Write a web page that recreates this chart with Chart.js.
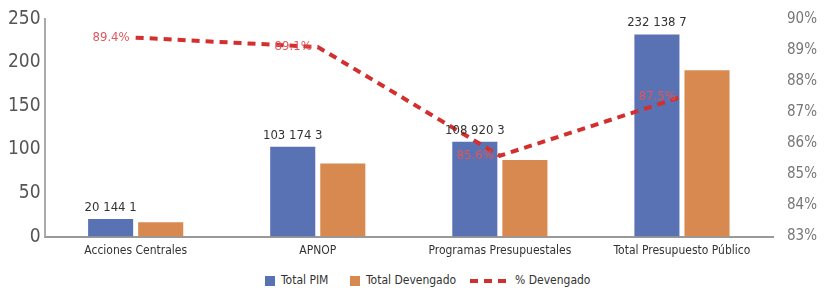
<!DOCTYPE html>
<html>
<head>
<meta charset="utf-8">
<script src="https://cdn.jsdelivr.net/npm/chart.js@4/dist/chart.umd.min.js"></script>
<style>
  html, body { margin: 0; padding: 0; background: #fff; }
  #wrap { width: 825px; height: 288px; position: relative; }
  #wykres { position: absolute; left: 0; top: 0; }
  #legenda {
    position: absolute; left: 0; top: 273px; width: 825px; height: 15px;
    font-family: 'DejaVu Sans', sans-serif; font-stretch: condensed; font-size: 12px; color: #333;
  }
  #legenda span { position: absolute; top: 0; white-space: nowrap; }
  #legenda i { position: absolute; display: block; }
</style>
</head>
<body>
<div id="wrap">
  <canvas id="wykres" width="825" height="265"></canvas>
  <div id="legenda"></div>
</div>
<script>
// dane z wykresu
const kategorie = ['Acciones Centrales', 'APNOP', 'Programas Presupuestales', 'Total Presupuesto Público'];
const totalPim = [20.1441, 103.1743, 108.9203, 232.1387];
const totalDevengado = [16.5, 84, 88, 191];
const pctDevengado = [89.4, 89.1, 85.6, 87.5];
const etykietyPim = ['20 144 1', '103 174 3', '108 920 3', '232 138 7'];
const etykietyPct = ['89.4%', '89.1%', '85.6%', '87.5%'];

const kolorPim = '#5872b4';
const kolorDev = '#d7894f';
const kolorLinia = '#d42f2f';

const czcionka = "'DejaVu Sans', sans-serif";
// 'condensed' trafia do skrotu font jako font-stretch
const waska = (size) => ({ size, family: czcionka, weight: 'condensed' });

// etykiety nad slupkami i przy linii
const etykiety = {
  id: 'etykiety',
  afterDatasetsDraw(chart) {
    const ctx = chart.ctx;
    ctx.save();
    const pim = chart.getDatasetMeta(0);
    ctx.font = 'condensed 13px ' + czcionka;
    ctx.fillStyle = '#333';
    ctx.textAlign = 'center';
    ctx.textBaseline = 'bottom';
    pim.data.forEach((bar, i) => {
      ctx.fillText(etykietyPim[i], bar.x, bar.y - 5);
    });
    const linia = chart.getDatasetMeta(2);
    ctx.fillStyle = '#e0565a';
    ctx.textAlign = 'right';
    ctx.textBaseline = 'middle';
    linia.data.forEach((pt, i) => {
      ctx.fillText(etykietyPct[i], pt.x - 6, pt.y);
    });
    ctx.restore();
  }
};

const ctx = document.getElementById('wykres').getContext('2d');
const wykres = new Chart(ctx, {
  data: {
    labels: kategorie,
    datasets: [
      {
        type: 'bar',
        label: 'Total PIM',
        data: totalPim,
        backgroundColor: kolorPim,
        yAxisID: 'y',
        order: 2,
        barPercentage: 0.9,
        categoryPercentage: 0.55
      },
      {
        type: 'bar',
        label: 'Total Devengado',
        data: totalDevengado,
        backgroundColor: kolorDev,
        yAxisID: 'y',
        order: 2,
        barPercentage: 0.9,
        categoryPercentage: 0.55
      },
      {
        type: 'line',
        label: '% Devengado',
        data: pctDevengado,
        borderColor: kolorLinia,
        backgroundColor: kolorLinia,
        borderWidth: 4,
        borderDash: [8, 6],
        pointRadius: 0,
        fill: false,
        tension: 0,
        yAxisID: 'y1',
        order: 1
      }
    ]
  },
  options: {
    responsive: false,
    animation: false,
    layout: { padding: { top: 19, left: 4, right: 2, bottom: 0 } },
    plugins: {
      tooltip: { enabled: false },
      legend: { display: false }
    },
    scales: {
      x: {
        grid: { display: false, drawTicks: false },
        border: { color: '#999', width: 2 },
        ticks: { color: '#333', font: waska(12), padding: 7 }
      },
      y: {
        position: 'left',
        min: 0,
        max: 250,
        ticks: { stepSize: 50, color: '#555', font: waska(19), padding: 4 },
        grid: { display: false, drawTicks: false },
        border: { color: '#aaa', width: 2 }
      },
      y1: {
        position: 'right',
        min: 83,
        max: 90,
        ticks: {
          stepSize: 1,
          color: '#777',
          font: waska(15),
          padding: 6,
          callback: v => v + '%'
        },
        grid: { display: false },
        border: { display: false }
      }
    }
  },
  plugins: [etykiety]
});

// legenda w HTML
const legenda = document.getElementById('legenda');
const pozycje = [
  { x: 265, typ: 'box' },
  { x: 350, typ: 'box' },
  { x: 470, typ: 'linia' }
];
wykres.data.datasets.forEach((ds, i) => {
  const p = pozycje[i];
  const znak = document.createElement('i');
  if (p.typ === 'box') {
    znak.style.cssText = `left:${p.x}px;top:3px;width:10px;height:10px;background:${ds.backgroundColor}`;
  } else {
    znak.style.cssText = `left:${p.x}px;top:6px;width:36px;height:0;border-top:4px dashed ${ds.borderColor}`;
  }
  legenda.appendChild(znak);
  const t = document.createElement('span');
  t.textContent = ds.label;
  t.style.left = (p.x + (p.typ === 'box' ? 16 : 45)) + 'px';
  legenda.appendChild(t);
});
</script>
</body>
</html>
